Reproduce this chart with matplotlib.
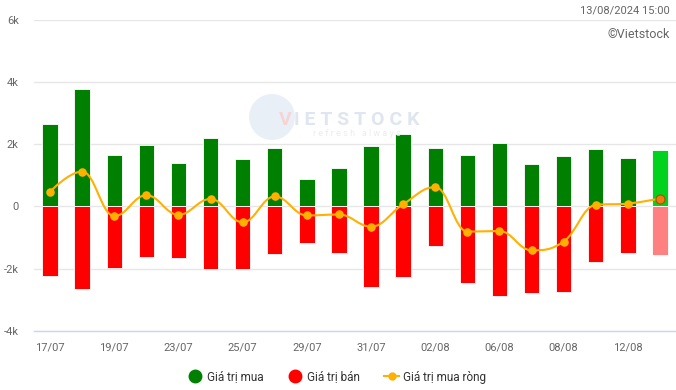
import matplotlib.pyplot as plt
import numpy as np
from matplotlib.path import Path
from matplotlib.patches import PathPatch, Ellipse
from matplotlib.lines import Line2D

plt.rcParams['font.family'] = ['Roboto', 'DejaVu Sans']

# Dữ liệu (tỷ đồng)
dates = ['17/07', '18/07', '19/07', '22/07', '23/07', '24/07', '25/07', '26/07',
         '29/07', '30/07', '31/07', '01/08', '02/08', '05/08', '06/08', '07/08',
         '08/08', '09/08', '12/08', '13/08']
buy = [2660, 3760, 1640, 1960, 1380, 2210, 1510, 1860, 870, 1220,
       1930, 2340, 1890, 1640, 2050, 1350, 1610, 1830, 1540, 1800]
sell = [-2220, -2660, -1990, -1610, -1670, -2020, -2020, -1540, -1190, -1490,
        -2600, -2280, -1280, -2470, -2880, -2790, -2760, -1770, -1480, -1570]
net = [470, 1120, -310, 360, -270, 240, -510, 320, -290, -260,
       -650, 70, 620, -810, -790, -1410, -1130, 50, 90, 250]

x = np.arange(len(dates))
n = len(dates)

fig = plt.figure(figsize=(6.76, 3.9), dpi=100)
ax = fig.add_axes([34 / 676, 59 / 390, 642 / 676, 311.5 / 390])

buy_colors = ['#008000'] * (n - 1) + ['#00d21e']
sell_colors = ['#ff0000'] * (n - 1) + ['#ff8080']
ax.bar(x, buy, width=0.48, color=buy_colors, edgecolor='white', linewidth=0.6, zorder=3)
ax.bar(x, sell, width=0.48, color=sell_colors, edgecolor='white', linewidth=0.6, zorder=3)


# spline kiểu Highcharts
def spline_path(xs, ys, smoothing=1.5):
    denom = smoothing + 1
    conts = []
    for i in range(len(xs)):
        if i == 0 or i == len(xs) - 1:
            conts.append(None)
            continue
        px, py = xs[i], ys[i]
        lx, ly = xs[i - 1], ys[i - 1]
        nx_, ny = xs[i + 1], ys[i + 1]
        lcx = (smoothing * px + lx) / denom
        lcy = (smoothing * py + ly) / denom
        rcx = (smoothing * px + nx_) / denom
        rcy = (smoothing * py + ny) / denom
        corr = ((rcy - lcy) * (rcx - px)) / (rcx - lcx) + py - rcy
        lcy += corr
        rcy += corr
        if lcy > ly and lcy > py:
            lcy = max(ly, py)
            rcy = 2 * py - lcy
        elif lcy < ly and lcy < py:
            lcy = min(ly, py)
            rcy = 2 * py - lcy
        if rcy > ny and rcy > py:
            rcy = max(ny, py)
            lcy = 2 * py - rcy
        elif rcy < ny and rcy < py:
            rcy = min(ny, py)
            lcy = 2 * py - rcy
        conts.append((lcx, lcy, rcx, rcy))
    verts = [(xs[0], ys[0])]
    codes = [Path.MOVETO]
    for i in range(1, len(xs)):
        prev = conts[i - 1]
        c1 = (prev[2], prev[3]) if prev else (xs[i - 1], ys[i - 1])
        cur = conts[i]
        c2 = (cur[0], cur[1]) if cur else (xs[i], ys[i])
        verts += [c1, c2, (xs[i], ys[i])]
        codes += [Path.CURVE4] * 3
    return Path(verts, codes)


line_color = '#ffb000'
ax.add_patch(PathPatch(spline_path(list(x), net), facecolor='none',
                       edgecolor=line_color, linewidth=1.5, zorder=4))
ax.scatter(x[:-1], net[:-1], s=38, color=line_color, zorder=5, linewidths=0)
ax.scatter(x[-1:], net[-1:], s=42, color='#f47a10', edgecolor='#b04a00',
           linewidths=0.8, zorder=6)

# watermark
fig.patches.append(Ellipse((272 / 676, 1 - 117 / 390), width=46 / 676, height=46 / 390,
                           transform=fig.transFigure, facecolor='#e6edf6',
                           edgecolor='none', alpha=0.85, zorder=1))
fig.text(279 / 676, 1 - 120 / 390, 'V', color='#f6d4d4', fontsize=14,
         fontweight='bold', va='center', ha='left', zorder=2)
fig.text(294 / 676, 1 - 120 / 390, 'I E T S T O C K', color='#dfe6ef', fontsize=14,
         fontweight='bold', va='center', ha='left', zorder=2)
fig.text(313 / 676, 1 - 134 / 390, 'r e f r e s h   a l w a y s', color='#e8edf3',
         fontsize=6.5, va='center', ha='left', zorder=2)

ax.set_xlim(-0.5, n - 0.5)
ax.set_ylim(-4000, 6000)
ax.set_yticks([-4000, -2000, 0, 2000, 4000, 6000])
ax.set_yticklabels(['-4k', '-2k', '0', '2k', '4k', '6k'])
ax.set_xticks(x[::2])
ax.set_xticklabels(dates[::2])
ax.tick_params(axis='y', length=0, pad=11, labelsize=8, labelcolor='#666666')
ax.tick_params(axis='x', length=0, pad=8, labelsize=8, labelcolor='#666666')
ax.grid(axis='y', color='#e6e6e6', linewidth=1, zorder=0)
ax.set_axisbelow(True)
for s in ['top', 'right', 'left']:
    ax.spines[s].set_visible(False)
ax.spines['bottom'].set_color('#ccd6eb')
ax.spines['bottom'].set_linewidth(1)

fig.text(670 / 676, 1 - 10 / 390, '13/08/2024 15:00', ha='right', va='center',
         fontsize=8, color='#666666')
fig.text(670 / 676, 1 - 35 / 390, '©Vietstock', ha='right', va='center',
         fontsize=9, color='#666666')

handles = [
    Line2D([], [], linestyle='none', marker='o', markersize=9, color='#008000'),
    Line2D([], [], linestyle='none', marker='o', markersize=9, color='#ff0000'),
    Line2D([], [], color=line_color, linewidth=1.5, marker='o', markersize=5),
]
fig.legend(handles, ['Giá trị mua', 'Giá trị bán', 'Giá trị mua ròng'],
           loc='center', bbox_to_anchor=(337 / 676, 1 - 377 / 390), ncol=3,
           frameon=False, fontsize=8.5, labelcolor='#333333', handlelength=1.2,
           handletextpad=0.4, columnspacing=2.1)

fig.savefig('out.png', dpi=100)
